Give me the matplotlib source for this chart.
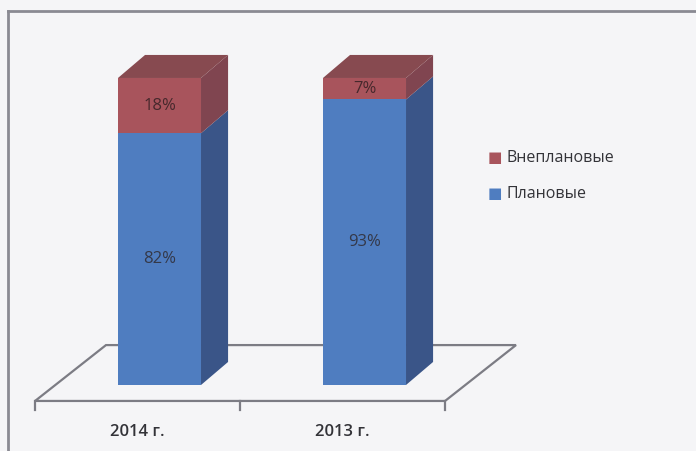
import matplotlib.pyplot as plt
from matplotlib.patches import Polygon
from matplotlib.lines import Line2D

# data
years = ['2014 г.', '2013 г.']
planned = [82, 93]      # Плановые, %
unplanned = [18, 7]     # Внеплановые, %
series_names = ['Внеплановые', 'Плановые']

plt.rcParams['font.family'] = ['Open Sans', 'DejaVu Sans']

bg = '#f5f5f7'
blue, blue_side = '#4f7dc0', '#3a5588'
red, red_side, red_top = '#a8545c', '#804550', '#874a50'

fig = plt.figure(figsize=(6.96, 4.51), dpi=100, facecolor=bg)
ax = fig.add_axes([0, 0, 1, 1])
ax.set_facecolor(bg)
ax.set_xlim(-0.778, 2.617)
ax.set_ylim(-21.5, 125.4)
ax.axis('off')

x = list(range(len(years)))
w = 0.405
dx, dy = 0.132, 7.5          # bar depth
fdx, fdy = 0.346, 18.2       # floor depth
fy = -5.2                    # floor front edge
shift = (fdx - dx) / 2

# floor
fl, fr = -0.5 - shift, len(years) - 0.5 - shift
floor = Polygon([(fl, fy), (fr, fy), (fr + fdx, fy + fdy), (fl + fdx, fy + fdy)],
                closed=True, facecolor='none', edgecolor='#7c7c84', lw=1.6, zorder=1)
ax.add_patch(floor)
for i in range(len(years) + 1):
    tx = i - 0.5 - shift
    ax.plot([tx, tx], [fy, fy - 2.8], color='#7c7c84', lw=1.6, zorder=1)
for xi, lab in zip(x, years):
    ax.text(xi - shift, -15.3, lab, ha='center', va='center', fontsize=12,
            color='#333338', fontweight='semibold')

# bars
ax.bar(x, planned, w, color=blue, zorder=3)
ax.bar(x, unplanned, w, bottom=planned, color=red, zorder=3)
for xi, p, u in zip(x, planned, unplanned):
    r = xi + w / 2
    l = xi - w / 2
    ax.add_patch(Polygon([(r, 0), (r + dx, dy), (r + dx, p + dy), (r, p)],
                         closed=True, facecolor=blue_side, edgecolor='none', zorder=3))
    ax.add_patch(Polygon([(r, p), (r + dx, p + dy), (r + dx, p + u + dy), (r, p + u)],
                         closed=True, facecolor=red_side, edgecolor='none', zorder=3))
    top = p + u
    ax.add_patch(Polygon([(l, top), (l + dx, top + dy), (r + dx, top + dy), (r, top)],
                         closed=True, facecolor=red_top, edgecolor='none', zorder=3))
    ax.text(xi, p / 2, f'{p}%', ha='center', va='center', fontsize=12, color='#343848', zorder=4)
    ax.text(xi, p + u / 2, f'{u}%', ha='center', va='center', fontsize=12, color='#46282c', zorder=4)

# legend
for name, col, py in zip(series_names, [red, blue], [158, 194]):
    fig.text(488 / 696, 1 - py / 451, '\u25a0', color=col, fontsize=11, va='center',
             family='DejaVu Sans')
    fig.text(506 / 696, 1 - py / 451, name, color='#333338', fontsize=11.5, va='center')

# frame
fig.add_artist(Line2D([8 / 696, 1], [1 - 11 / 451] * 2, color='#8a8a92', lw=2))
fig.add_artist(Line2D([8 / 696] * 2, [0, 1 - 11 / 451], color='#8a8a92', lw=2))

fig.savefig('out.png', dpi=100, facecolor=bg)
